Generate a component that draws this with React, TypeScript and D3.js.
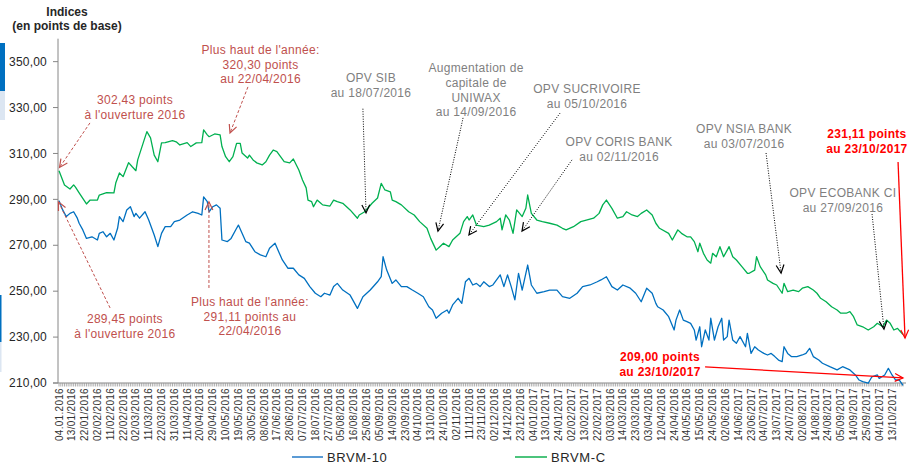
import React from "react"
import * as d3 from "d3"

// ---------- Data ----------
// [trading day index since 04/01/2016, index value]
const brvmC: [number, number][] = [
  [0, 302.43], [3, 296.3], [6, 294.5], [8, 296.3], [9, 295.3], [11, 292.8], [15, 288.0], [17, 289.7], [21, 289.7], [22, 291.9],
  [26, 292.9], [30, 292.8], [31, 297.1], [33, 301.5], [35, 299.9], [38, 306.0], [40, 304.2], [42, 302.5], [43, 307.2], [46, 314.6],
  [48, 319.5], [50, 316.8], [52, 309.3], [54, 306.4], [56, 314.6], [58, 314.7], [62, 315.6], [64, 315.1], [66, 313.7], [70, 314.7],
  [72, 313.0], [75, 314.6], [78, 314.7], [79, 320.3], [81, 318.1], [82, 317.3], [85, 318.5], [88, 318.1], [89, 313.0], [91, 308.6],
  [93, 306.4], [95, 308.6], [97, 314.4], [99, 314.4], [100, 310.2], [103, 308.0], [104, 309.3], [106, 307.2], [108, 305.9], [111, 305.0],
  [113, 306.4], [115, 309.3], [117, 311.5], [119, 310.8], [121, 308.6], [123, 306.4], [126, 305.9], [128, 307.6], [131, 302.8], [133, 298.4],
  [135, 295.0], [136, 289.7], [138, 289.0], [139, 286.8], [141, 289.7], [143, 288.3], [144, 287.6], [148, 287.1], [150, 289.7], [152, 289.0],
  [155, 288.3], [159, 285.4], [163, 281.8], [164, 283.2], [167, 284.6], [171, 288.3], [174, 290.6], [176, 297.0], [178, 294.1], [181, 293.3],
  [182, 289.7], [184, 289.0], [187, 287.6], [191, 284.6], [194, 283.2], [197, 280.3], [201, 277.4], [203, 273.0], [206, 267.9], [208, 269.4],
  [210, 270.9], [213, 269.4], [215, 272.3], [219, 275.2], [221, 280.3], [223, 282.5], [224, 281.0], [226, 283.2], [228, 278.8], [232, 278.1],
  [235, 278.8], [239, 280.3], [241, 281.8], [242, 276.7], [244, 283.2], [246, 281.0], [248, 275.2], [250, 285.4], [253, 282.5], [255, 286.1],
  [256, 291.9], [258, 283.9], [261, 281.0], [264, 280.3], [268, 279.6], [272, 278.8], [275, 277.4], [277, 276.7], [281, 278.1], [285, 280.3],
  [288, 281.0], [292, 281.8], [295, 283.9], [297, 287.6], [299, 289.7], [302, 286.1], [305, 281.8], [308, 282.5], [310, 284.6], [313, 283.2],
  [316, 282.5], [318, 283.9], [321, 285.4], [324, 283.2], [326, 279.6], [328, 277.4], [333, 275.2], [335, 272.3], [338, 276.7], [340, 275.2],
  [343, 273.7], [345, 273.7], [347, 271.6], [349, 267.2], [350, 270.9], [352, 266.5], [354, 263.6], [356, 262.2], [357, 266.5], [359, 265.0],
  [361, 269.4], [363, 265.0], [365, 267.9], [366, 269.4], [368, 265.0], [370, 263.6], [373, 260.7], [376, 257.8], [377, 257.8], [380, 259.2],
  [381, 265.0], [383, 260.7], [386, 257.1], [387, 254.9], [390, 253.4], [392, 252.7], [395, 249.1], [396, 253.4], [398, 249.8], [401, 250.5],
  [404, 249.8], [406, 251.3], [409, 252.0], [412, 250.5], [414, 249.1], [416, 246.9], [419, 245.4], [422, 243.2], [425, 241.8], [427, 240.4],
  [430, 240.4], [432, 241.1], [434, 238.9], [436, 235.3], [439, 234.5], [442, 233.1], [445, 234.5], [447, 236.0], [450, 234.5], [452, 237.4],
  [454, 236.0], [456, 233.1], [458, 233.8], [461, 231.11],
]

const brvm10: [number, number][] = [
  [0, 289.45], [2, 285.4], [4, 282.5], [6, 283.9], [8, 284.6], [10, 281.8], [11, 279.6], [13, 276.7], [15, 273.0], [18, 273.7],
  [21, 272.3], [22, 275.2], [24, 275.9], [26, 273.7], [28, 275.2], [30, 272.3], [32, 277.4], [33, 282.5], [35, 280.3], [37, 285.4],
  [39, 286.8], [41, 282.5], [42, 283.9], [44, 281.8], [47, 284.6], [49, 281.0], [52, 274.5], [54, 269.4], [56, 275.2], [58, 278.1],
  [61, 278.1], [63, 280.3], [66, 281.0], [70, 283.2], [73, 284.6], [76, 283.9], [78, 283.2], [79, 291.11], [81, 289.0], [82, 284.6],
  [84, 286.8], [86, 287.6], [88, 286.1], [89, 272.3], [92, 271.6], [94, 273.0], [97, 277.4], [98, 278.8], [100, 275.2], [102, 271.6],
  [104, 270.9], [107, 267.2], [110, 265.8], [113, 265.0], [115, 268.7], [118, 270.9], [120, 267.2], [122, 263.6], [125, 260.0], [128, 260.0],
  [131, 257.1], [134, 255.6], [137, 252.0], [140, 249.1], [143, 247.6], [145, 249.1], [148, 248.3], [150, 252.0], [152, 253.4], [155, 250.5],
  [159, 248.3], [163, 242.5], [166, 247.6], [170, 250.5], [174, 254.1], [176, 256.3], [177, 265.0], [179, 259.2], [182, 253.4], [184, 254.9],
  [187, 252.0], [190, 252.0], [193, 250.5], [196, 249.1], [199, 247.6], [202, 243.2], [204, 241.8], [206, 238.2], [209, 240.4], [212, 241.8],
  [213, 240.4], [215, 244.0], [218, 246.9], [220, 244.7], [222, 254.1], [224, 255.6], [226, 252.7], [228, 253.4], [230, 252.0], [232, 254.1],
  [235, 252.0], [237, 252.7], [241, 257.1], [243, 252.0], [245, 257.1], [247, 252.0], [249, 246.2], [251, 257.8], [253, 250.5], [255, 257.8],
  [256, 261.4], [258, 252.7], [261, 249.1], [265, 249.8], [268, 250.5], [272, 250.5], [275, 247.6], [279, 246.9], [283, 249.1], [286, 252.0],
  [290, 252.7], [294, 254.1], [296, 254.9], [299, 256.3], [302, 252.0], [305, 250.5], [308, 252.7], [312, 251.3], [315, 249.1], [318, 245.4],
  [321, 251.3], [324, 249.1], [326, 244.7], [327, 243.2], [330, 241.8], [333, 238.9], [336, 233.1], [337, 237.4], [339, 241.8], [341, 237.4],
  [343, 236.7], [345, 236.0], [347, 233.1], [348, 228.7], [350, 234.5], [351, 225.8], [353, 233.1], [355, 228.7], [356, 238.2], [358, 228.7],
  [360, 234.5], [362, 238.2], [363, 228.7], [365, 230.2], [366, 237.4], [368, 228.7], [370, 227.3], [372, 230.2], [375, 225.8], [376, 231.6],
  [378, 222.9], [380, 225.8], [382, 224.4], [385, 222.9], [387, 222.2], [389, 222.9], [391, 221.5], [393, 220.0], [395, 219.3], [396, 225.8],
  [398, 222.9], [400, 221.5], [403, 221.5], [406, 222.2], [408, 222.9], [410, 225.1], [412, 221.5], [415, 220.0], [417, 218.6], [421, 217.1],
  [425, 215.7], [428, 217.1], [432, 215.7], [435, 213.5], [437, 211.3], [439, 210.6], [442, 209.9], [444, 212.7], [447, 213.5], [448, 212.0],
  [451, 213.5], [453, 216.4], [455, 213.5], [457, 211.3], [459, 211.3], [461, 209.0],
]

// one label every 7 trading days
const tickLabels = [
  "04.01.2016", "13/01/2016", "22/01/2016", "02/02/2016", "11/02/2016", "22/02/2016", "02/03/2016", "11/03/2016",
  "22/03/2016", "31/03/2016", "11/04/2016", "20/04/2016", "29/04/2016", "10/05/2016", "19/05/2016", "30/05/2016",
  "08/06/2016", "17/06/2016", "28/06/2016", "07/07/2016", "18/07/2016", "27/07/2016", "05/08/2016", "16/08/2016",
  "25/08/2016", "05/09/2016", "14/09/2016", "23/09/2016", "04/10/2016", "13/10/2016", "24/10/2016", "02/11/2016",
  "11/11/2016", "23/11/2016", "02/12/2016", "14/12/2016", "23/12/2016", "04/01/2017", "13/01/2017", "24/01/2017",
  "02/02/2017", "13/02/2017", "22/02/2017", "03/03/2016", "14/03/2016", "23/03/2016", "03/04/2016", "12/04/2016",
  "24/04/2016", "04/05/2016", "15/05/2016", "24/05/2016", "02/06/2016", "14/06/2017", "23/06/2017", "04/07/2017",
  "13/07/2017", "24/07/2017", "02/08/2017", "14/08/2017", "24/08/2017", "05/09/2017", "14/09/2017", "25/09/2017",
  "04/10/2017", "13/10/2017",
]
const lastDay = 461
const yTicks = [210, 230, 250, 270, 290, 310, 330, 350]

// ---------- Annotations (data coordinates) ----------
type Kind = "soft" | "gray" | "hot"
interface Note {
  lines: string[]
  text: [number, number]
  from: [number, number]
  to: [number, number]
  kind: Kind
}

const notes: Note[] = [
  { lines: ["302,43 points", "à l'ouverture 2016"], text: [41.5, 331.6], from: [16.9, 323.3], to: [0.3, 303.9], kind: "soft" },
  { lines: ["Plus haut de l'année:", "320,30 points", "au 22/04/2016"], text: [110.1, 353.4], from: [103.2, 339.0], to: [93.4, 318.9], kind: "soft" },
  { lines: ["289,45 points", "à l'ouverture 2016"], text: [36.0, 236.1], from: [27.9, 242.7], to: [-0.3, 288.9], kind: "soft" },
  { lines: ["Plus haut de l'année:", "291,11 points au", "22/04/2016"], text: [104.3, 243.6], from: [81.9, 251.4], to: [81.9, 288.9], kind: "soft" },
  { lines: ["OPV SIB", "au 18/07/2016"], text: [170.4, 341.2], from: [166.0, 329.5], to: [167.7, 284.1], kind: "gray" },
  { lines: ["Augmentation de", "capitale de", "UNIWAX", "au 14/09/2016"], text: [227.8, 345.5], from: [220.7, 325.5], to: [207.0, 276.2], kind: "gray" },
  { lines: ["OPV SUCRIVOIRE", "au 05/10/2016"], text: [288.4, 336.4], from: [273.7, 327.6], to: [223.9, 274.5], kind: "gray" },
  { lines: ["OPV CORIS BANK", "au 02/11/2016"], text: [305.9, 313.3], from: [280.2, 307.2], to: [252.9, 276.2], kind: "gray" },
  { lines: ["OPV NSIA BANK", "au 03/07/2016"], text: [374.2, 318.9], from: [386.2, 310.2], to: [394.4, 257.9], kind: "gray" },
  { lines: ["OPV ECOBANK CI", "au 27/09/2016"], text: [428.2, 291.0], from: [444.1, 283.6], to: [450.6, 233.5], kind: "gray" },
  { lines: ["231,11 points", "au 23/10/2017"], text: [441.3, 316.8], from: [458.3, 306.3], to: [462.1, 229.6], kind: "hot" },
  { lines: ["209,00 points", "au 23/10/2017"], text: [328.3, 219.6], from: [352.9, 217.0], to: [461.0, 212.2], kind: "hot" },
]

const BLUE = "#0070C0"
const GREEN = "#00B050"
const FONT = "'Liberation Sans', Arial, sans-serif"

const styleOf: Record<Kind, { text: string; line: string; dash: string | undefined; head: string; weight: number }> = {
  soft: { text: "#C0504D", line: "#C0504D", dash: "3,2", head: "#C0504D", weight: 400 },
  gray: { text: "#7F7F7F", line: "#000", dash: "1,1.5", head: "#000", weight: 400 },
  hot: { text: "#FF0000", line: "#FF0000", dash: undefined, head: "#FF0000", weight: 700 },
}

const arrowHead = (x1: number, y1: number, x2: number, y2: number, len = 9, spread = 0.45) => {
  const a = Math.atan2(y2 - y1, x2 - x1)
  const p1 = [x2 - len * Math.cos(a - spread), y2 - len * Math.sin(a - spread)]
  const p2 = [x2 - len * Math.cos(a + spread), y2 - len * Math.sin(a + spread)]
  return `M${p1[0]},${p1[1]}L${x2},${y2}L${p2[0]},${p2[1]}`
}

// ---------- Component ----------
const App: React.FC = () => {
  const width = 912
  const height = 468
  const left = 58
  const bottom = 383

  const x = d3.scaleLinear().domain([0, lastDay]).range([59, 903])
  const y = d3.scaleLinear().domain([210, 360]).range([bottom, 38.7])

  const line = d3.line<[number, number]>()
    .x(d => x(d[0]))
    .y(d => y(d[1]))

  const fmt = (v: number) => d3.format(".2f")(v).replace(".", ",")
  const allDays = d3.range(0, lastDay + 1)

  return (
    <svg width={width} height={height} style={{ position: "absolute", left: 0, top: 0, background: "#fff" }} fontFamily={FONT}>
      {/* page edge leftovers */}
      <rect x={0} y={43} width={5} height={48} fill={BLUE} />
      <rect x={0} y={91} width={5} height={29} fill="#DCE6F2" />
      <rect x={0} y={295} width={1.5} height={47} fill={BLUE} />
      <rect x={0} y={342} width={1.5} height={30} fill="#DCE6F2" />

      {/* title */}
      <text x={67} y={16} textAnchor="middle" fontSize={12} fontWeight={700} fill="#262626">Indices</text>
      <text x={67} y={30} textAnchor="middle" fontSize={12} fontWeight={700} fill="#262626">(en points de base)</text>

      {/* y axis */}
      <line x1={left} x2={left} y1={y(360)} y2={bottom} stroke="#868686" />
      {yTicks.map(t => (
        <g key={t}>
          <line x1={left - 5} x2={left} y1={y(t)} y2={y(t)} stroke="#868686" />
          <text x={47} y={y(t)} dy="0.35em" textAnchor="end" fontSize={12} letterSpacing={0.2} fill="#262626">{fmt(t)}</text>
        </g>
      ))}

      {/* x axis */}
      <line x1={left - 5} x2={906} y1={bottom} y2={bottom} stroke="#868686" />
      {allDays.map(d => (
        <line key={d} x1={x(d)} x2={x(d)} y1={bottom} y2={bottom + 3.5} stroke="#999" strokeWidth={0.8} />
      ))}
      {tickLabels.map((lab, i) => (
        <text key={lab + i} transform={`translate(${x(i * 7)},${bottom + 5}) rotate(-90)`} dy="0.35em"
          textAnchor="end" fontSize={10} letterSpacing={0.3} fill="#333">{lab}</text>
      ))}

      {/* series */}
      <path d={line(brvmC) ?? ""} fill="none" stroke={GREEN} strokeWidth={1.3} strokeLinejoin="round" />
      <path d={line(brvm10) ?? ""} fill="none" stroke={BLUE} strokeWidth={1.3} strokeLinejoin="round" />

      {/* annotations */}
      {notes.map((n, k) => {
        const s = styleOf[n.kind]
        const tx = x(n.text[0])
        const ty = y(n.text[1])
        const x1 = x(n.from[0]), y1 = y(n.from[1])
        const x2 = x(n.to[0]), y2 = y(n.to[1])
        return (
          <g key={k}>
            <text x={tx} y={ty} textAnchor="middle" fontSize={12} letterSpacing={0.3} fontWeight={s.weight} fill={s.text}>
              {n.lines.map((l, j) => (
                <tspan key={j} x={tx} dy={j === 0 ? 0 : 14.8}>{l}</tspan>
              ))}
            </text>
            <line x1={x1} y1={y1} x2={x2} y2={y2} stroke={s.line} strokeWidth={n.kind === "hot" ? 1.3 : 1} strokeDasharray={s.dash} />
            <path d={arrowHead(x1, y1, x2, y2)} fill="none" stroke={s.head} strokeWidth={1.2} />
          </g>
        )
      })}

      {/* legend */}
      <line x1={292} x2={323} y1={457} y2={457} stroke="#5B9BD5" strokeWidth={2} />
      <text x={327} y={462} fontSize={13} letterSpacing={0.6} fill="#262626">BRVM-10</text>
      <line x1={515} x2={547} y1={457} y2={457} stroke="#4CC47C" strokeWidth={2} />
      <text x={551} y={462} fontSize={13} letterSpacing={0.6} fill="#262626">BRVM-C</text>
    </svg>
  )
}

export default App
